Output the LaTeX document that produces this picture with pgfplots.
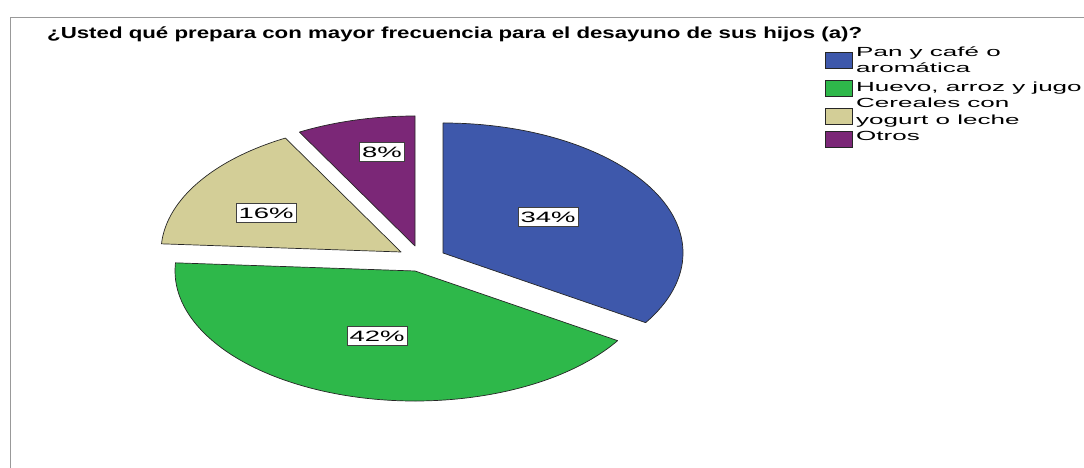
\documentclass[border=0pt]{standalone}
\usepackage{pgfplots}
\pgfplotsset{compat=1.18}
\usepackage{pgfplotstable}
\usepackage{graphicx}
\usepackage{fontspec}
\setmainfont{Liberation Sans}

\definecolor{pblue}{RGB}{62,88,171}
\definecolor{pgreen}{RGB}{46,184,74}
\definecolor{ptan}{RGB}{211,206,151}
\definecolor{ppurple}{RGB}{123,39,119}

% pct: share of each slice; cx,cy: apex of the (exploded) slice in px from top-left;
% lx,ly: centre of its percentage label
\pgfplotstableread{
pct cx cy lx ly col
34 443 253 548 217 pblue
42 415 271 377 336 pgreen
16 401 252 266 213 ptan
8 415 246 382 152 ppurple
}\piedata

\begin{document}
\begin{tikzpicture}
\useasboundingbox (0,0) rectangle (1084pt,468pt);
\begin{axis}[at={(0,0)}, anchor=south west, scale only axis,
  width=1084pt, height=468pt,
  xmin=0, xmax=1084, ymin=-468, ymax=0,
  hide axis, clip=false]
% frame
\draw[black!40, line width=1pt] (axis cs:10,-468) -- (axis cs:10,-18) -- (axis cs:1084,-18);
% title
\node[anchor=base west, inner sep=0pt, font=\bfseries\fontsize{16}{19}\selectfont]
  at (axis cs:47,-39) {\resizebox{815pt}{\height}{¿Usted qué prepara con mayor frecuencia para el desayuno de sus hijos (a)?}};
% pie
\pgfmathsetmacro\cum{0}
\pgfplotsforeachungrouped \i in {0,1,2,3}{%
  \pgfplotstablegetelem{\i}{pct}\of\piedata\let\vv\pgfplotsretval
  \pgfplotstablegetelem{\i}{cx}\of\piedata\let\vcx\pgfplotsretval
  \pgfplotstablegetelem{\i}{cy}\of\piedata\let\vcy\pgfplotsretval
  \pgfplotstablegetelem{\i}{lx}\of\piedata\let\vlx\pgfplotsretval
  \pgfplotstablegetelem{\i}{ly}\of\piedata\let\vly\pgfplotsretval
  \pgfplotstablegetelem{\i}{col}\of\piedata\let\vcol\pgfplotsretval
  \pgfmathsetmacro\phiA{90-3.6*\cum}%
  \pgfmathsetmacro\cum{\cum+\vv}%
  \pgfmathsetmacro\phiB{90-3.6*\cum}%
  \edef\temp{%
    \noexpand\filldraw[fill=\vcol, draw=black!85, line width=0.7pt, line join=round]
      (axis cs:\vcx,-\vcy) -- ++(\phiA:240pt and 130pt)
      arc[start angle=\phiA, end angle=\phiB, x radius=240pt, y radius=130pt] -- cycle;
    \noexpand\node[draw=black!75, fill=white, line width=0.8pt, inner xsep=2.5pt, inner ysep=4.5pt,
      text height=10.8pt, text depth=0pt, font=\noexpand\fontsize{15}{18}\noexpand\selectfont]
      at (axis cs:\vlx,-\vly) {\noexpand\scalebox{1.83}[1]{\vv\noexpand\%}};
  }%
  \temp
}
% legend
\filldraw[fill=pblue, draw=black!85, line width=0.8pt] (axis cs:825,-52) rectangle (axis cs:852,-68);
\filldraw[fill=pgreen, draw=black!85, line width=0.8pt] (axis cs:825,-80) rectangle (axis cs:852,-96);
\filldraw[fill=ptan, draw=black!85, line width=0.8pt] (axis cs:825,-108) rectangle (axis cs:852,-124);
\filldraw[fill=ppurple, draw=black!85, line width=0.8pt] (axis cs:825,-131) rectangle (axis cs:852,-147);
\begin{scope}[every node/.style={anchor=base west, inner sep=0pt, font=\fontsize{13.2}{15}\selectfont}]
\node at (axis cs:856,-57) {\scalebox{1.97}[1]{Pan y café o}};
\node at (axis cs:856,-73) {\scalebox{1.97}[1]{aromática}};
\node at (axis cs:856,-92) {\scalebox{1.97}[1]{Huevo, arroz y jugo}};
\node at (axis cs:856,-108) {\scalebox{1.97}[1]{Cereales con}};
\node at (axis cs:856,-125) {\scalebox{1.97}[1]{yogurt o leche}};
\node at (axis cs:856,-141) {\scalebox{1.97}[1]{Otros}};
\end{scope}
\end{axis}
\end{tikzpicture}
\end{document}
